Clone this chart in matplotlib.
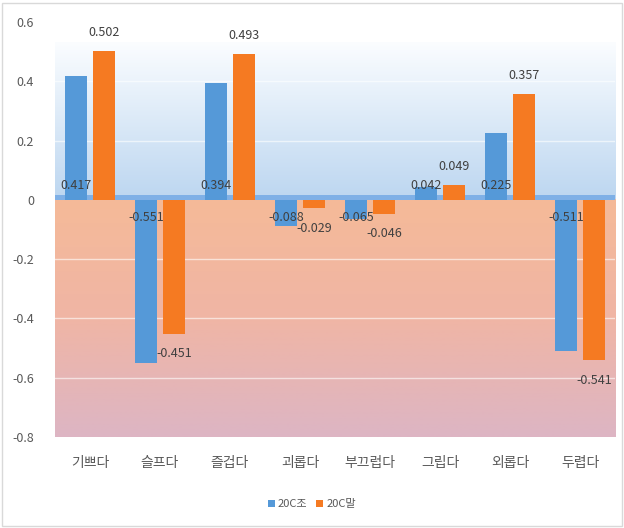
import numpy as np
import matplotlib.pyplot as plt
from matplotlib.colors import LinearSegmentedColormap
from matplotlib.patches import Rectangle

plt.rcParams['font.family'] = ['Noto Sans CJK KR', 'DejaVu Sans']

categories = ['기쁘다', '슬프다', '즐겁다', '괴롭다', '부끄럽다', '그립다', '외롭다', '두렵다']
early = [0.417, -0.551, 0.394, -0.088, -0.065, 0.042, 0.225, -0.511]
late = [0.502, -0.451, 0.493, -0.029, -0.046, 0.049, 0.357, -0.541]
series_names = ['20C조', '20C말']
yticks = [0.6, 0.4, 0.2, 0, -0.2, -0.4, -0.6, -0.8]

blue = '#5599D8'
orange = '#F57A22'
grey = '#595959'

fig = plt.figure(figsize=(6.24, 5.28), dpi=100)
ax = fig.add_axes([0.088, 0.1723, 0.8976, 0.786])

x = np.arange(len(categories))
xmin, xmax = -0.5, len(categories) - 0.5

# background gradients (plot area fill)
pos_cmap = LinearSegmentedColormap.from_list('pos', ['#BCD6F0', '#FBFDFF'])
neg_cmap = LinearSegmentedColormap.from_list('neg', ['#F5BA98', '#F0B5A5', '#DDB5C4'])
grad = np.linspace(0, 1, 256).reshape(-1, 1)
ax.imshow(grad, extent=[xmin, xmax, 0, 0.53], origin='lower', cmap=pos_cmap,
          aspect='auto', zorder=0)
ax.imshow(grad, extent=[xmin, xmax, 0, -0.8], origin='lower', cmap=neg_cmap,
          aspect='auto', zorder=0)
ax.add_patch(Rectangle((xmin, 0), xmax - xmin, 0.016, color='#7FB0E6', zorder=1, lw=0))

for gy in [0.4, 0.2, -0.2, -0.4, -0.6]:
    ax.axhline(gy, color='white', lw=1, alpha=0.6, zorder=1)

w = 0.31
off = 0.2
ax.bar(x - off, early, w, color=blue, label=series_names[0], zorder=2)
ax.bar(x + off, late, w, color=orange, label=series_names[1], zorder=2)

# data labels: first series at inside base, second series outside end
for i in range(len(categories)):
    v = early[i]
    ax.text(x[i] - off, 0.05 if v > 0 else -0.06, f'{v:.3f}', ha='center', va='center',
            fontsize=9, color='#404040', zorder=3)
    v = late[i]
    ax.text(x[i] + off, v + (0.063 if v > 0 else -0.068), f'{v:.3f}', ha='center', va='center',
            fontsize=9, color='#404040', zorder=3)

ax.set_xlim(xmin, xmax)
ax.set_ylim(-0.8, 0.6)
ax.set_yticks(yticks)
ax.set_yticklabels(['0.6', '0.4', '0.2', '0', '-0.2', '-0.4', '-0.6', '-0.8'])
ax.set_xticks(x)
ax.set_xticklabels(categories, fontsize=10, color=grey)
ax.tick_params(axis='y', length=0, pad=15, labelsize=9, labelcolor=grey)
ax.tick_params(axis='x', length=0, pad=14)
for s in ax.spines.values():
    s.set_visible(False)

leg = fig.legend(loc='center', bbox_to_anchor=(0.5, 0.045), ncol=2, frameon=False,
                 fontsize=8, handlelength=0.6, handleheight=0.6, handletextpad=0.3,
                 columnspacing=0.8)
for t in leg.get_texts():
    t.set_color(grey)

fig.patches.append(Rectangle((0.004, 0.004), 0.992, 0.99, transform=fig.transFigure,
                             fill=False, edgecolor='#D9D9D9', lw=1))

fig.savefig('out.png', dpi=100)
